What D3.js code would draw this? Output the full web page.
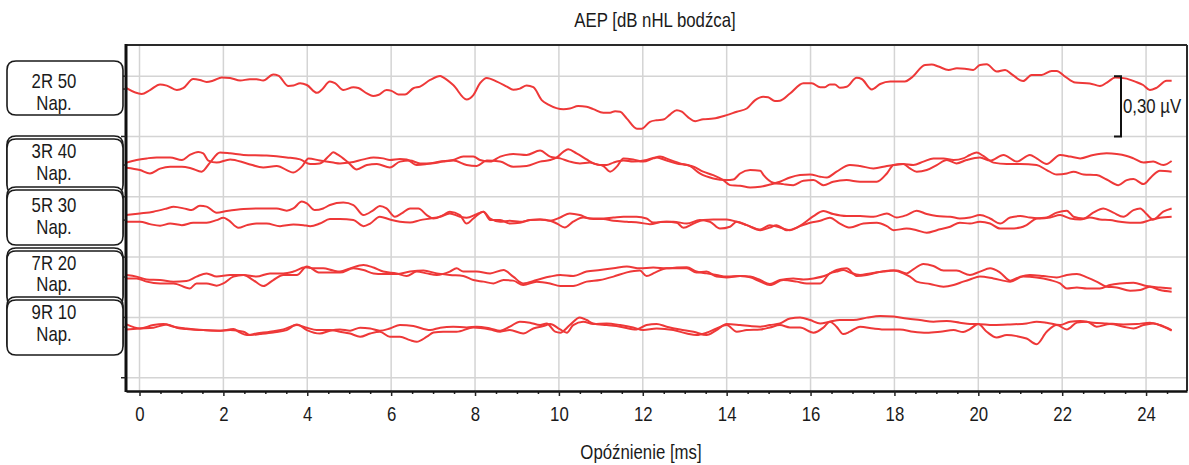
<!DOCTYPE html>
<html>
<head>
<meta charset="utf-8">
<script src="https://cdn.jsdelivr.net/npm/d3@7"></script>
<style>
  html, body { margin: 0; padding: 0; background: #fff; }
  svg text { font-family: "Liberation Sans", Arial, sans-serif; fill: #1a1a1a; }
</style>
</head>
<body>
<svg id="chart" width="1189" height="465"></svg>
<script>
// ---- stimulus rows (label lines, display offset of the row baseline in µV) ----
const rowLabels = [["2R 50", "Nap."], ["3R 40", "Nap."], ["5R 30", "Nap."], ["7R 20", "Nap."], ["9R 10", "Nap."]];
const rowOffsets = [1.436, 1.058, 0.784, 0.501, 0.252];

// ---- axis values ----
const timeTicks = [0, 2, 4, 6, 8, 10, 12, 14, 16, 18, 20, 22, 24];
const gridLevels = [0, 0.3, 0.6, 0.9, 1.2, 1.5];
const scaleBarUv = 0.30;

// ---- recorded waveforms: [latency ms, amplitude nV] ----
const wave2R50 = [[-0.31,4],[0.05,-25],[0.25,-5],[0.49,23],[0.65,17],[0.89,-5],[1.04,4],[1.28,50],[1.44,45],[1.60,35],[1.76,42],[1.96,57],[2.16,55],[2.40,42],[2.63,49],[2.79,49],[2.95,42],[3.19,72],[3.31,67],[3.55,15],[3.67,17],[3.83,29],[3.99,20],[4.23,-19],[4.34,-5],[4.54,37],[4.66,29],[4.86,-5],[5.10,9],[5.22,5],[5.42,-22],[5.57,-35],[5.69,-30],[5.89,-5],[6.01,-9],[6.17,-27],[6.33,-27],[6.53,4],[6.69,12],[6.93,45],[7.17,65],[7.24,58],[7.48,20],[7.80,-52],[7.96,-30],[8.12,29],[8.28,55],[8.52,37],[8.76,12],[8.91,-4],[9.07,2],[9.23,17],[9.39,9],[9.59,-55],[9.75,-77],[10.11,-100],[10.26,-97],[10.46,-85],[10.66,-88],[10.82,-100],[11.06,-118],[11.22,-118],[11.34,-110],[11.46,-113],[11.62,-147],[11.86,-197],[11.97,-197],[12.17,-163],[12.33,-155],[12.49,-152],[12.65,-127],[12.81,-105],[12.93,-113],[13.09,-142],[13.25,-160],[13.44,-150],[13.68,-147],[14.00,-130],[14.24,-113],[14.48,-97],[14.68,-55],[14.87,-38],[14.99,-41],[15.15,-60],[15.27,-58],[15.51,-22],[15.83,29],[16.03,29],[16.23,9],[16.34,9],[16.46,23],[16.58,23],[16.70,6],[16.86,11],[17.10,56],[17.22,50],[17.46,-2],[17.66,25],[17.90,37],[18.25,37],[18.41,57],[18.73,120],[18.89,122],[19.05,112],[19.29,95],[19.49,103],[19.68,101],[19.88,95],[20.04,120],[20.20,123],[20.44,87],[20.64,95],[20.80,73],[21.07,40],[21.27,70],[21.51,70],[21.75,90],[21.87,90],[22.07,62],[22.31,32],[22.66,28],[22.90,15],[23.10,37],[23.26,57],[23.50,53],[23.74,37],[23.93,20],[24.09,-5],[24.25,6],[24.49,41],[24.61,41]];

const wave3R40a = [[-0.31,12],[-0.07,25],[0.17,33],[0.41,38],[0.73,38],[1.01,25],[1.20,50],[1.40,65],[1.52,58],[1.64,22],[1.84,12],[2.16,28],[2.56,8],[2.95,-12],[3.27,-5],[3.67,-37],[3.87,-8],[4.03,33],[4.30,22],[4.62,12],[4.78,8],[5.02,12],[5.34,28],[5.58,38],[5.81,33],[5.97,25],[6.21,30],[6.37,28],[6.61,0],[6.85,5],[7.17,17],[7.48,25],[7.72,42],[7.96,42],[8.12,25],[8.36,17],[8.60,42],[8.91,55],[9.23,50],[9.55,72],[9.79,42],[10.03,33],[10.26,17],[10.50,8],[10.74,12],[10.98,0],[11.14,0],[11.30,12],[11.54,22],[11.77,17],[12.09,25],[12.33,38],[12.57,22],[12.81,8],[13.05,0],[13.21,-8],[13.44,-33],[13.68,-50],[13.92,-75],[14.08,-100],[14.32,-103],[14.56,-112],[14.80,-108],[15.03,-97],[15.27,-83],[15.51,-62],[15.75,-50],[15.99,-47],[16.23,-58],[16.39,-62],[16.62,-33],[16.94,0],[17.18,-5],[17.50,-17],[17.82,-5],[17.98,0],[18.21,5],[18.45,0],[18.69,17],[18.93,33],[19.17,33],[19.41,25],[19.64,33],[19.80,50],[19.96,62],[20.12,45],[20.36,12],[20.68,5],[21.00,5],[21.39,0],[21.63,-25],[21.87,-47],[22.11,-42],[22.27,-33],[22.51,-47],[22.82,-50],[23.06,-72],[23.34,-100],[23.54,-75],[23.70,-70],[23.94,-95],[24.13,-58],[24.33,-28],[24.61,-33]];
const wave3R40b = [[-0.31,-13],[0.01,-25],[0.25,-42],[0.49,-18],[0.73,-8],[1.01,-8],[1.24,-17],[1.48,-33],[1.68,12],[1.92,62],[2.16,58],[2.48,50],[3.03,47],[3.51,38],[3.83,28],[4.07,5],[4.30,8],[4.54,50],[4.62,63],[4.74,50],[4.98,12],[5.18,-22],[5.42,0],[5.66,5],[5.97,-12],[6.21,17],[6.45,22],[6.69,8],[6.93,8],[7.24,17],[7.48,22],[7.80,0],[8.04,-5],[8.28,22],[8.60,17],[8.91,-8],[9.23,-5],[9.55,17],[9.79,25],[9.95,38],[10.11,67],[10.22,78],[10.42,58],[10.66,28],[10.82,8],[11.06,-5],[11.22,-33],[11.38,-8],[11.54,33],[11.77,28],[12.01,17],[12.25,33],[12.41,42],[12.65,25],[12.89,8],[13.13,-5],[13.36,-42],[13.68,-67],[14.00,-75],[14.16,-72],[14.32,-42],[14.56,-25],[14.80,-28],[14.88,-50],[15.11,-88],[15.35,-95],[15.59,-100],[15.83,-78],[16.07,-75],[16.31,-100],[16.54,-83],[16.86,-75],[17.18,-83],[17.58,-83],[17.82,-42],[17.98,0],[18.21,5],[18.37,-17],[18.53,-33],[18.77,-25],[19.01,0],[19.25,25],[19.48,8],[19.72,25],[20.04,38],[20.28,22],[20.60,50],[20.92,17],[21.23,50],[21.39,33],[21.63,5],[21.95,50],[22.19,42],[22.43,33],[22.74,50],[23.06,58],[23.30,55],[23.54,45],[23.70,33],[23.94,12],[24.17,17],[24.41,0],[24.61,20]];

const wave5R30a = [[-0.31,25],[0.01,33],[0.33,42],[0.65,58],[0.81,67],[1.12,55],[1.24,50],[1.44,72],[1.60,67],[1.84,37],[2.08,45],[2.48,55],[2.87,58],[3.27,58],[3.51,47],[3.67,58],[3.87,92],[3.99,83],[4.18,50],[4.38,58],[4.54,75],[4.86,87],[5.10,75],[5.34,25],[5.58,50],[5.73,70],[5.89,58],[6.09,17],[6.25,33],[6.45,58],[6.65,58],[6.85,25],[7.01,8],[7.24,25],[7.40,42],[7.64,25],[7.80,-17],[7.96,8],[8.20,42],[8.36,8],[8.60,-8],[8.83,-3],[9.07,-8],[9.31,0],[9.55,3],[9.79,-3],[10.03,13],[10.26,33],[10.50,25],[10.74,8],[10.98,8],[11.30,13],[11.54,17],[11.85,17],[12.09,8],[12.25,-12],[12.57,-8],[12.81,-13],[12.97,-38],[13.21,-17],[13.44,0],[13.68,3],[14.00,3],[14.24,-8],[14.48,-25],[14.80,-50],[15.03,-37],[15.19,-25],[15.43,-50],[15.67,-37],[15.83,-17],[16.07,20],[16.31,45],[16.54,30],[16.86,20],[17.18,20],[17.50,17],[17.82,33],[18.05,13],[18.29,25],[18.53,47],[18.77,30],[19.01,20],[19.33,17],[19.56,8],[19.80,13],[20.04,25],[20.28,8],[20.52,-17],[20.76,13],[21.00,20],[21.23,13],[21.47,8],[21.71,13],[21.95,25],[22.19,8],[22.43,3],[22.66,13],[22.90,3],[23.14,0],[23.38,-8],[23.62,-13],[23.86,-13],[24.09,0],[24.33,12],[24.61,17]];
const wave5R30b = [[-0.31,-8],[0.01,-8],[0.25,-20],[0.49,-28],[0.73,-17],[1.01,-25],[1.28,-13],[1.60,-13],[1.84,0],[2.00,12],[2.12,0],[2.36,-38],[2.56,-25],[2.79,-17],[3.03,-17],[3.35,-30],[3.67,-22],[3.91,-25],[4.07,-30],[4.30,-17],[4.54,5],[4.78,5],[5.10,0],[5.34,-30],[5.50,-17],[5.73,17],[5.97,3],[6.21,-8],[6.45,-12],[6.69,0],[6.93,8],[7.17,17],[7.40,33],[7.64,17],[7.80,12],[8.04,30],[8.20,42],[8.36,0],[8.60,0],[8.83,-17],[9.07,-13],[9.31,0],[9.55,3],[9.79,-3],[9.95,-17],[10.14,-37],[10.34,-8],[10.58,13],[10.82,5],[11.06,5],[11.30,-3],[11.62,-8],[11.93,-13],[12.17,-20],[12.49,-8],[12.73,-8],[13.05,-17],[13.36,0],[13.60,-8],[13.84,-42],[14.08,-33],[14.24,-8],[14.48,-25],[14.80,-47],[15.03,-25],[15.27,-37],[15.51,-50],[15.75,-30],[15.99,-13],[16.23,-3],[16.46,12],[16.70,-17],[16.94,-37],[17.26,-17],[17.58,-13],[17.82,-30],[17.98,-50],[18.29,-42],[18.53,-50],[18.77,-63],[19.01,-50],[19.33,-33],[19.56,-13],[19.80,-17],[20.04,-8],[20.28,-17],[20.52,-42],[20.76,-42],[21.00,-37],[21.15,-25],[21.39,8],[21.63,13],[21.87,37],[22.11,47],[22.27,17],[22.51,8],[22.74,37],[22.98,58],[23.22,37],[23.46,17],[23.70,50],[23.86,58],[24.01,30],[24.17,3],[24.41,42],[24.61,58]];

const wave7R20a = [[-0.31,10],[-0.07,2],[0.17,-12],[0.49,-15],[0.81,-23],[1.12,-20],[1.36,2],[1.60,18],[1.84,2],[2.16,10],[2.48,10],[2.79,2],[3.11,18],[3.43,18],[3.67,27],[3.95,48],[4.15,43],[4.38,43],[4.62,32],[4.78,27],[5.02,43],[5.34,60],[5.58,47],[5.81,27],[6.13,18],[6.37,5],[6.61,27],[6.85,18],[7.09,10],[7.40,27],[7.56,43],[7.72,27],[8.04,27],[8.36,18],[8.68,35],[8.91,2],[9.15,-32],[9.47,-15],[9.79,2],[10.03,10],[10.34,5],[10.66,27],[10.98,35],[11.30,43],[11.62,52],[11.93,43],[12.25,47],[12.57,43],[12.81,47],[13.05,48],[13.28,27],[13.52,18],[13.76,10],[14.00,2],[14.32,5],[14.56,2],[14.80,-15],[15.03,-35],[15.27,-15],[15.59,-7],[15.83,-12],[16.07,-7],[16.39,10],[16.62,35],[16.86,43],[17.10,5],[17.34,10],[17.58,22],[17.90,32],[18.05,32],[18.29,18],[18.45,38],[18.69,65],[18.93,55],[19.17,32],[19.48,32],[19.80,10],[20.04,27],[20.28,43],[20.52,22],[20.76,-18],[21.00,2],[21.23,10],[21.55,5],[21.87,-2],[22.11,10],[22.35,15],[22.59,-2],[22.82,-23],[23.06,-48],[23.30,-52],[23.62,-68],[23.86,-65],[24.09,-48],[24.33,-65],[24.61,-73]];
const wave7R20b = [[-0.31,-7],[-0.07,-7],[0.17,-23],[0.49,-32],[0.81,-32],[1.20,-57],[1.36,-32],[1.60,-32],[1.84,-43],[2.00,-32],[2.24,2],[2.48,10],[2.71,-15],[2.95,-45],[3.19,-15],[3.43,10],[3.75,10],[3.99,52],[4.30,22],[4.62,22],[4.78,22],[5.10,43],[5.34,35],[5.58,18],[5.81,15],[6.13,15],[6.45,27],[6.77,32],[7.09,18],[7.40,10],[7.72,5],[7.96,-15],[8.20,-23],[8.44,-32],[8.68,-15],[8.91,-18],[9.15,-40],[9.47,-23],[9.79,-32],[10.03,-45],[10.34,-45],[10.66,-23],[10.98,-15],[11.30,2],[11.62,23],[11.93,32],[12.09,5],[12.29,22],[12.57,43],[12.89,43],[13.05,43],[13.28,22],[13.52,27],[13.76,2],[14.00,-2],[14.32,5],[14.56,-2],[14.80,-23],[15.03,-40],[15.35,-15],[15.67,-23],[15.91,-32],[16.23,-32],[16.46,18],[16.62,27],[16.78,35],[16.94,22],[17.18,10],[17.42,18],[17.74,27],[17.98,32],[18.21,18],[18.37,2],[18.53,-23],[18.85,-35],[19.17,-48],[19.41,-40],[19.64,-23],[19.80,-12],[20.04,2],[20.36,-7],[20.76,-23],[21.07,2],[21.39,-2],[21.71,-15],[21.95,-32],[22.11,-57],[22.35,-52],[22.59,-57],[22.90,-57],[23.14,-40],[23.38,-32],[23.70,-28],[24.01,-45],[24.33,-52],[24.61,-57]];

const wave9R10a = [[-0.31,13],[0.01,-7],[0.33,10],[0.57,15],[0.81,2],[1.12,-7],[1.52,-15],[1.92,-18],[2.16,-15],[2.48,-23],[2.64,-40],[2.87,-35],[3.19,-27],[3.51,-15],[3.75,13],[3.99,-15],[4.30,-32],[4.54,-18],[4.78,-12],[5.02,-18],[5.26,-3],[5.50,-7],[5.73,-18],[5.97,-7],[6.21,10],[6.53,5],[6.93,-15],[7.17,-3],[7.48,2],[7.80,-2],[8.04,2],[8.36,-7],[8.60,-18],[8.83,2],[9.07,27],[9.31,22],[9.55,10],[9.71,18],[9.91,-23],[10.03,-28],[10.26,10],[10.50,48],[10.66,35],[10.82,18],[11.14,10],[11.46,2],[11.85,-12],[12.09,10],[12.33,15],[12.57,2],[12.89,-12],[13.21,-23],[13.52,-40],[13.76,-15],[14.00,15],[14.32,10],[14.56,5],[14.80,2],[15.03,10],[15.27,18],[15.51,43],[15.75,47],[15.99,35],[16.23,18],[16.46,27],[16.70,35],[17.02,35],[17.34,47],[17.66,55],[17.98,52],[18.29,43],[18.61,35],[18.93,27],[19.25,30],[19.56,22],[19.80,15],[19.96,15],[20.36,10],[20.76,13],[21.15,18],[21.39,27],[21.63,22],[21.95,10],[22.19,27],[22.43,30],[22.74,22],[23.06,18],[23.46,13],[23.78,15],[24.09,22],[24.33,10],[24.61,-15]];
const wave9R10b = [[-0.31,-12],[0.01,-7],[0.33,-3],[0.65,13],[0.89,-3],[1.12,-10],[1.52,-15],[1.92,-18],[2.24,-10],[2.40,-28],[2.56,-40],[2.79,-32],[3.11,-23],[3.43,-12],[3.75,10],[3.99,-3],[4.22,-15],[4.54,-15],[4.78,-23],[5.02,-32],[5.26,-48],[5.50,-32],[5.73,-23],[5.97,-48],[6.21,-48],[6.45,-65],[6.61,-73],[6.85,-48],[7.01,-27],[7.24,-23],[7.56,-23],[7.96,-2],[8.36,-12],[8.60,-23],[8.83,-15],[9.15,-32],[9.39,-7],[9.63,5],[9.79,15],[10.03,-12],[10.19,-28],[10.34,10],[10.58,27],[10.82,15],[11.14,18],[11.46,10],[11.77,-2],[12.01,-15],[12.33,-7],[12.73,-15],[13.05,-32],[13.28,-40],[13.52,-28],[13.76,-7],[14.00,10],[14.24,-23],[14.48,-15],[14.80,-12],[15.03,-2],[15.27,10],[15.51,-2],[15.75,-2],[16.07,-28],[16.31,-2],[16.46,27],[16.62,2],[16.78,-35],[16.94,-23],[17.18,2],[17.50,-7],[17.82,-12],[18.13,-12],[18.45,-23],[18.77,-28],[19.09,-23],[19.41,-15],[19.64,-25],[19.80,-10],[20.00,15],[20.20,-23],[20.44,-52],[20.68,-40],[20.92,-45],[21.15,-57],[21.39,-85],[21.63,-23],[21.87,10],[22.11,-12],[22.35,22],[22.59,27],[22.82,2],[23.14,15],[23.46,2],[23.70,-7],[23.94,10],[24.17,18],[24.41,2],[24.61,-18]];

// waveforms grouped by row (one or two sweeps per row)
const rowWaves = [[wave2R50], [wave3R40a, wave3R40b], [wave5R30a, wave5R30b], [wave7R20a, wave7R20b], [wave9R10a, wave9R10b]];

// ---- layout ----
const plot = { left: 126, right: 1187, top: 45, bottom: 391 };
const red = "#ee3838";
const FONT_SIZE = 20;
const NARROW = 0.84;   // horizontal squeeze that gives the narrow face look

const svg = d3.select("#chart");

const x = d3.scaleLinear().domain([-0.322, 24.976]).range([plot.left, plot.right]);
const y = d3.scaleLinear().domain([-0.066, 1.655]).range([plot.bottom, plot.top]);

// narrow text placed at (px, py)
function narrowText(parent, px, py, str, anchor) {
  return parent.append("text")
    .attr("transform", `translate(${px},${py}) scale(${NARROW},1)`)
    .attr("text-anchor", anchor || "middle")
    .attr("font-size", FONT_SIZE)
    .text(str);
}

// grid
const grid = svg.append("g");
grid.selectAll("line.v").data(timeTicks).join("line")
  .attr("x1", d => x(d)).attr("x2", d => x(d))
  .attr("y1", plot.top).attr("y2", plot.bottom)
  .attr("stroke", "#d4d4d4").attr("stroke-width", 1.5);
grid.selectAll("line.h").data(gridLevels).join("line")
  .attr("x1", plot.left).attr("x2", plot.right)
  .attr("y1", d => y(d)).attr("y2", d => y(d))
  .attr("stroke", "#d4d4d4").attr("stroke-width", 1.5);

// waveforms
const line = d3.line().x(d => x(d[0])).y(d => d[1]).curve(d3.curveMonotoneX);
rowWaves.forEach((waves, r) => {
  waves.forEach(w => {
    const pts = w.map(([t, nv]) => [t, y(rowOffsets[r] + nv / 1000)]);
    svg.append("path")
      .attr("d", line(pts))
      .attr("fill", "none")
      .attr("stroke", red)
      .attr("stroke-width", 2)
      .attr("stroke-linejoin", "round");
  });
});

// frame: top and right borders
svg.append("line").attr("x1", plot.left).attr("x2", plot.right).attr("y1", plot.top).attr("y2", plot.top)
  .attr("stroke", "#2a2a2a").attr("stroke-width", 2);
svg.append("line").attr("x1", plot.right).attr("x2", plot.right).attr("y1", plot.top).attr("y2", plot.bottom)
  .attr("stroke", "#2a2a2a").attr("stroke-width", 2);

// bottom axis with minor ticks
const minorTicks = d3.range(0, 25, 0.5).filter(v => v % 2 !== 0);
const xMinor = d3.axisBottom(x).tickValues(minorTicks).tickSize(3).tickFormat("");
const gMinor = svg.append("g").attr("transform", `translate(0,${plot.bottom})`).call(xMinor);
gMinor.select(".domain").remove();
gMinor.selectAll("line").attr("stroke", "#222").attr("stroke-width", 1.5);

const xAxis = d3.axisBottom(x).tickValues(timeTicks).tickSize(5).tickPadding(11).tickSizeOuter(0);
const gx = svg.append("g").attr("transform", `translate(0,${plot.bottom})`).call(xAxis);
gx.select(".domain").attr("stroke", "#111").attr("stroke-width", 2.5);
gx.selectAll(".tick line").attr("stroke", "#222").attr("stroke-width", 1.5);
gx.selectAll(".tick text")
  .attr("font-size", FONT_SIZE).attr("fill", "#1a1a1a")
  .attr("transform", `scale(${NARROW},1)`)
  .style("font-family", '"Liberation Sans", Arial, sans-serif');

// left axis (thick) with small ticks at grid levels and at each row baseline
svg.append("line").attr("x1", plot.left).attr("x2", plot.left).attr("y1", plot.top - 1).attr("y2", plot.bottom + 1)
  .attr("stroke", "#111").attr("stroke-width", 3);
svg.selectAll("line.ytick").data(gridLevels.concat(rowOffsets)).join("line")
  .attr("x1", plot.left - 5).attr("x2", plot.left)
  .attr("y1", d => y(d)).attr("y2", d => y(d))
  .attr("stroke", "#222").attr("stroke-width", 1.5);

// row label boxes
function boxPath(x0, x1, y0, y1, r) {
  return `M${x0 + r},${y0} H${x1 - r} Q${x1},${y0} ${x1},${y0 + r} V${y1 - r} Q${x1},${y1} ${x1 - r},${y1} H${x0 + r} Q${x0},${y1} ${x0},${y1 - r} V${y0 + r} Q${x0},${y0} ${x0 + r},${y0} Z`;
}
const boxes = [
  { top: [61], h: 54, text: [88, 109.5] },
  { top: [136, 139], h: 55, text: [158, 179.5] },
  { top: [187, 190], h: 55, text: [212, 233.5] },
  { top: [248, 251], h: 55, text: [269.5, 291] },
  { top: [297, 300], h: 55, text: [319, 340.5] }
];
const gLab = svg.append("g");
boxes.forEach((b, i) => {
  b.top.forEach(t => {
    gLab.append("path").attr("d", boxPath(7, 123, t, t + b.h, 9))
      .attr("fill", "#fff").attr("stroke", "#1a1a1a").attr("stroke-width", 1.6);
  });
  rowLabels[i].forEach((txt, k) => narrowText(gLab, 54, b.text[k], txt));
});

// scale bar 0,30 µV
const sbTop = y(gridLevels[5]);
const sbBot = y(gridLevels[5] - scaleBarUv);
const sbX = 1121;
svg.append("path")
  .attr("d", `M${sbX - 7},${sbTop} H${sbX} V${sbBot} H${sbX - 7}`)
  .attr("fill", "none").attr("stroke", "#111").attr("stroke-width", 2);
narrowText(svg, sbX + 2, (sbTop + sbBot) / 2 + 7, "0,30 µV", "start");

// titles
narrowText(svg, 655, 27, "AEP [dB nHL bodźca]");
narrowText(svg, 641, 459, "Opóźnienie [ms]");
</script>
</body>
</html>
